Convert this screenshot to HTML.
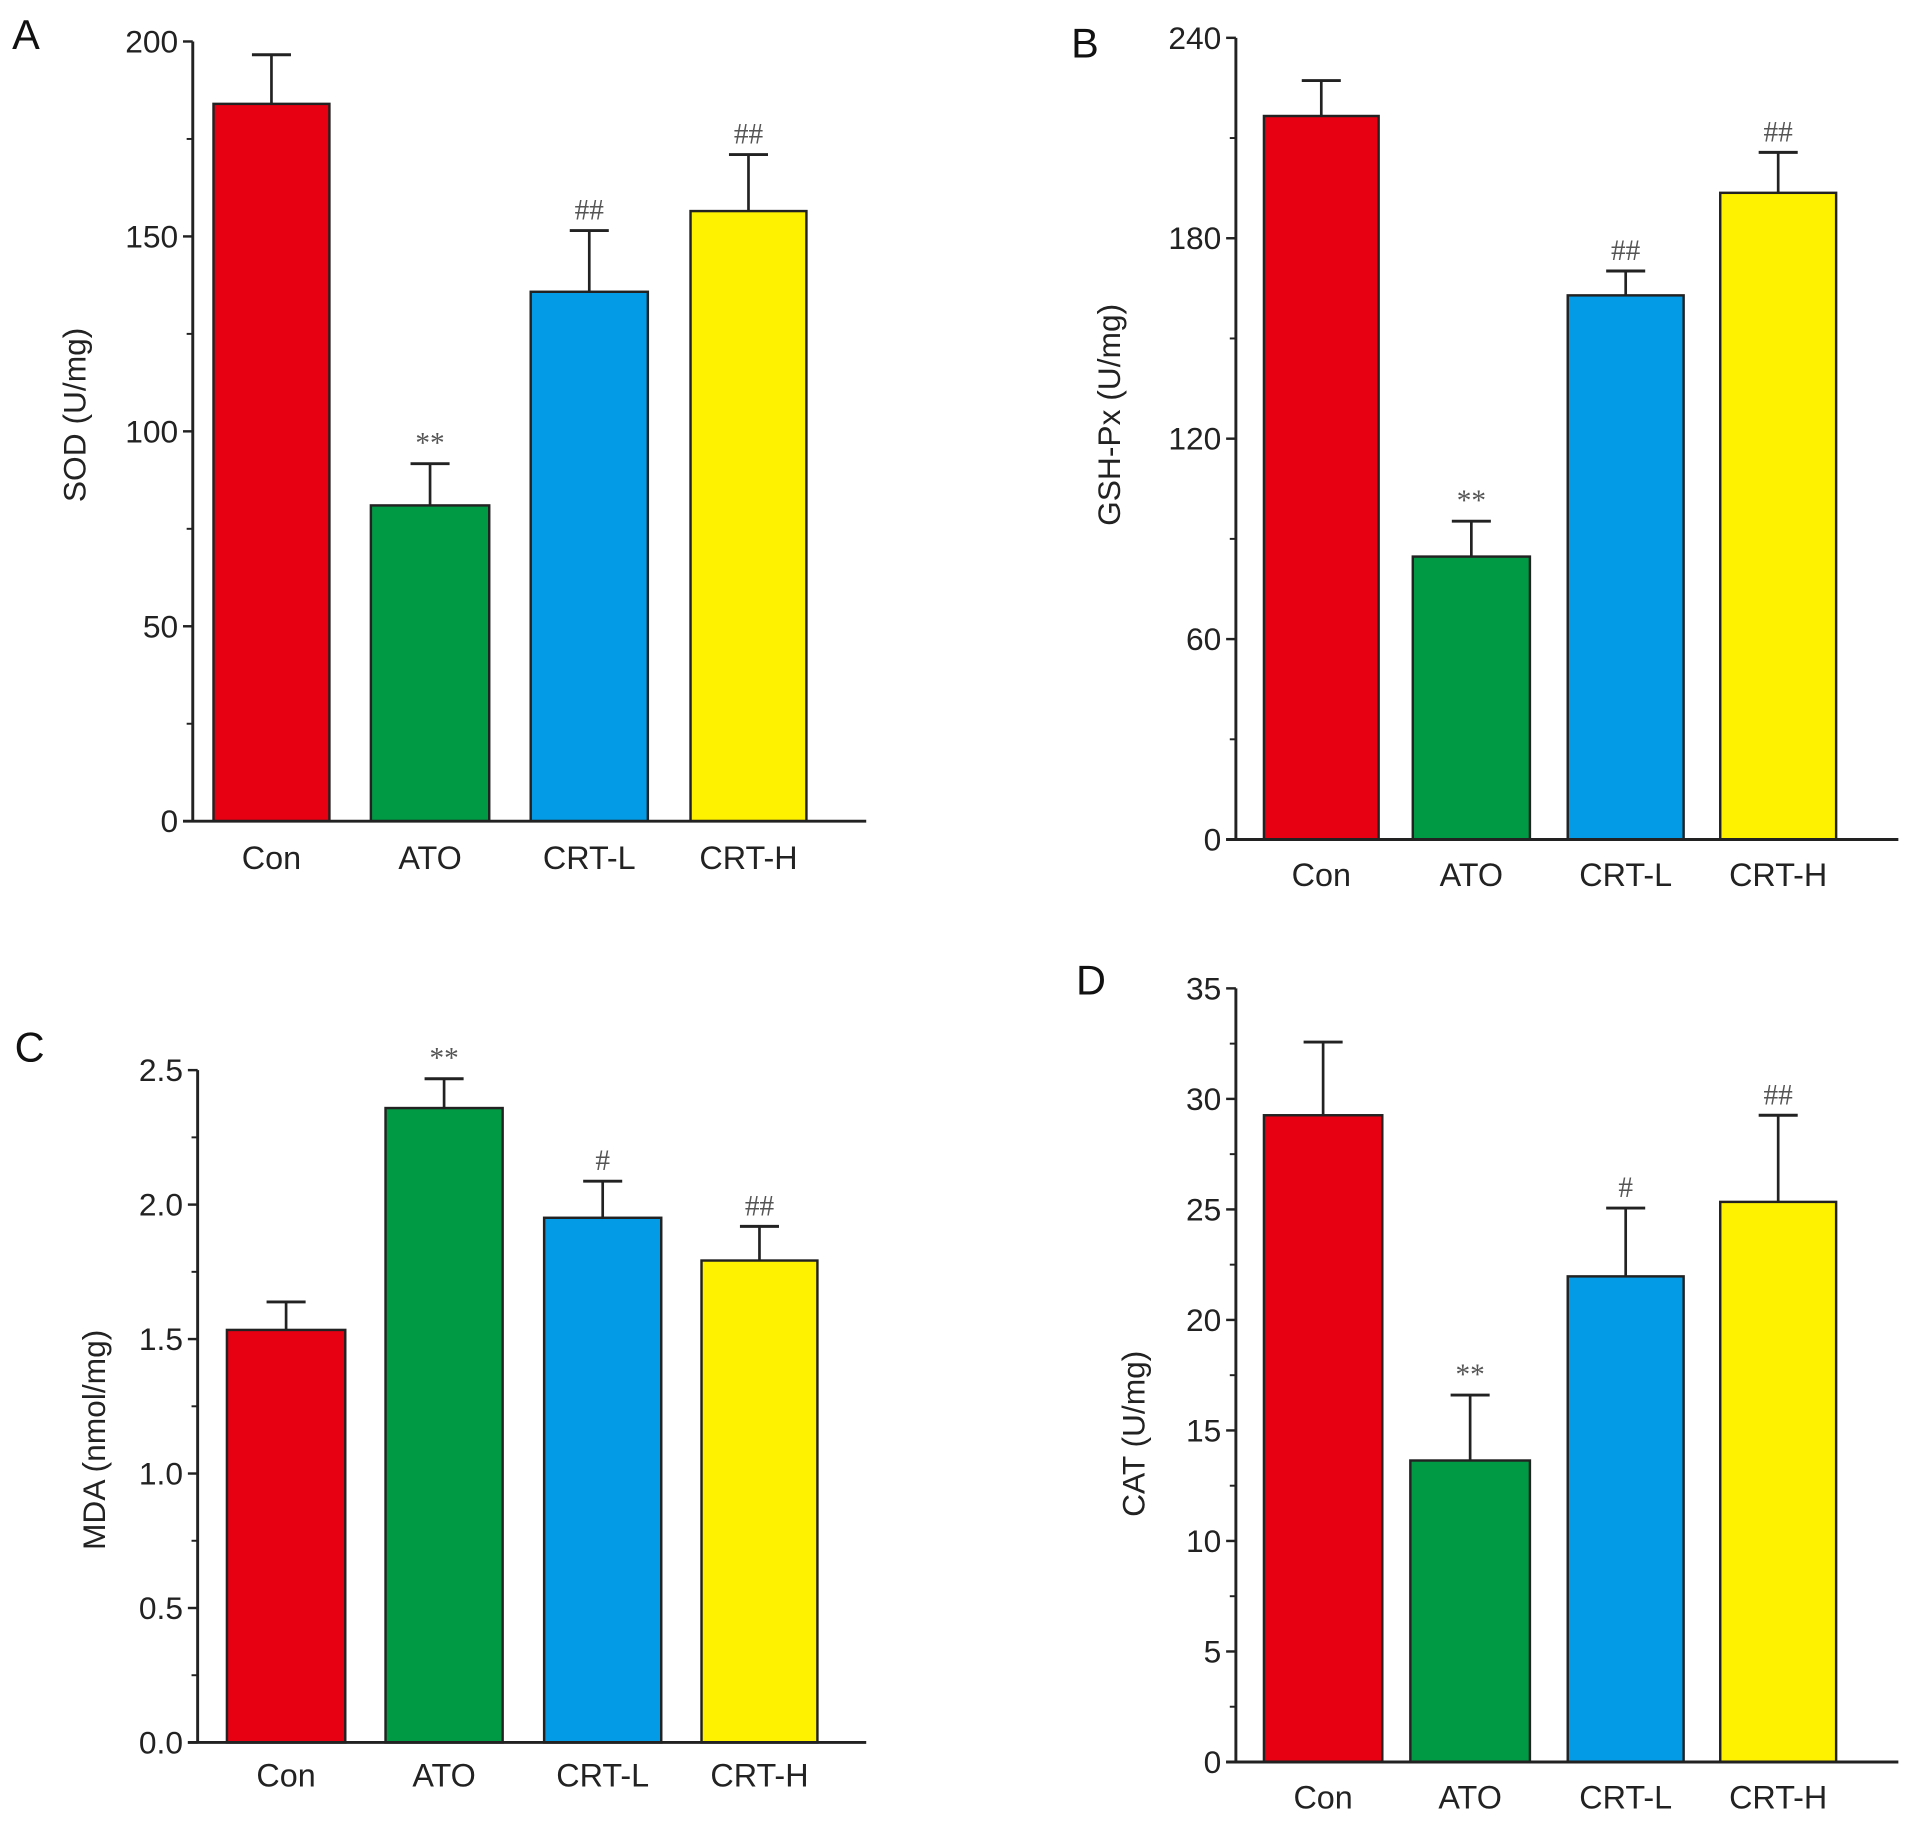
<!DOCTYPE html>
<html><head><meta charset="utf-8"><style>
html,body{margin:0;padding:0;background:#fff}
svg{display:block}
</style></head><body>
<svg id="fig" width="1913" height="1823" viewBox="0 0 1568 1494" preserveAspectRatio="none" xmlns="http://www.w3.org/2000/svg" font-family="Liberation Sans, sans-serif"></svg>
<script>
const categories = ["Con","ATO","CRT-L","CRT-H"];
const colors = ["#e60012","#009a44","#039be5","#fff200"];
const sodValues = [184, 81, 135.8, 156.5];
const sodErrors = [12.6, 10.7, 15.7, 14.5];
const sodMarks = ["", "**", "##", "##"];
const sodTicks = [0,50,100,150,200];
const gshValues = [216.6, 84.7, 162.9, 193.6];
const gshErrors = [10.6, 10.6, 7.3, 12.1];
const gshMarks = ["", "**", "##", "##"];
const gshTicks = [0,60,120,180,240];
const mdaValues = [1.534, 2.359, 1.951, 1.792];
const mdaErrors = [0.104, 0.109, 0.136, 0.127];
const mdaMarks = ["", "**", "#", "##"];
const mdaTicks = [0,0.5,1.0,1.5,2.0,2.5];
const mdaTickLabels = ["0.0","0.5","1.0","1.5","2.0","2.5"];
const catValues = [29.26, 13.64, 21.97, 25.34];
const catErrors = [3.31, 2.96, 3.09, 3.92];
const catMarks = ["", "**", "#", "##"];
const catTicks = [0,5,10,15,20,25,30,35];

const NS="http://www.w3.org/2000/svg";
const svg=document.getElementById('fig');
function mk(tag,attrs,parent,text){const e=document.createElementNS(NS,tag);for(const k in attrs)e.setAttribute(k,attrs[k]);if(text!==undefined)e.textContent=text;(parent||svg).appendChild(e);return e;}

function panel(o){
  const g=mk('g',{});
  
  
  const max=o.ticks[o.ticks.length-1];
  const y=v=>o.y0-(v/max)*(o.y0-o.yTop);
  const lt=mk('text',{x:o.lx,y:o.ly,'font-size':34,fill:'#111'},g,o.letter);
  
  
  categories.forEach((c,i)=>{
    const x1=o.barX[i][0],x2=o.barX[i][1],cx=(x1+x2)/2;
    const top=y(o.values[i]),et=y(o.values[i]+o.errors[i]);
    const el=mk('line',{x1:cx,x2:cx,y1:top,y2:et,stroke:'#222','stroke-width':2.2},g);
    
    
    const cap=mk('line',{x1:cx-16,x2:cx+16,y1:et,y2:et,stroke:'#222','stroke-width':2.4},g);
    
    
    const r=mk('rect',{x:x1,y:top,width:x2-x1,height:o.y0-top,fill:colors[i],stroke:'#222','stroke-width':2},g);
    
    
    if(o.marks[i]){
      const m=mk('text',{x:cx,y:et-9,'font-size':24,'text-anchor':'middle',fill:'#555','font-family':'Liberation Serif, serif'},g,o.marks[i]);
      
      
    }
    const t=mk('text',{x:cx,y:o.labY,'font-size':26.5,'text-anchor':'middle',fill:'#222'},g,c);
    
    
  });
  const ya=mk('line',{x1:o.ax,x2:o.ax,y1:o.yTop,y2:o.y0,stroke:'#222','stroke-width':2.4},g);
  
  
  const xa=mk('line',{x1:o.ax-8,x2:o.xEnd,y1:o.y0,y2:o.y0,stroke:'#222','stroke-width':2.4},g);
  
  
  o.ticks.forEach((v,i)=>{
    const ty=y(v);
    mk('line',{x1:o.ax-8,x2:o.ax,y1:ty,y2:ty,stroke:'#222','stroke-width':2},g);
    const t=mk('text',{x:o.ax-12,y:ty+9,'font-size':26,'text-anchor':'end',fill:'#222'},g,o.tickLabels?o.tickLabels[i]:String(v));
    
    
    if(i<o.ticks.length-1){
      const my=y((v+o.ticks[i+1])/2);
      mk('line',{x1:o.ax-5,x2:o.ax,y1:my,y2:my,stroke:'#222','stroke-width':1.6},g);
    }
  });
  const yt=mk('text',{x:0,y:0,'font-size':26,'text-anchor':'middle',fill:'#222',transform:`translate(${o.tx},${o.ty}) rotate(-90)`},g,o.title);
  
  
}

panel({letter:'A',lx:10,ly:40,ax:158,yTop:34,y0:673,xEnd:710,labY:712,values:sodValues,errors:sodErrors,marks:sodMarks,ticks:sodTicks,
  barX:[[175,270],[304,401],[435,531],[566,661]],title:'SOD (U/mg)',tx:70,ty:340});
panel({letter:'B',lx:878,ly:47,ax:1013,yTop:31,y0:688,xEnd:1556,labY:726,values:gshValues,errors:gshErrors,marks:gshMarks,ticks:gshTicks,
  barX:[[1036,1130],[1158,1254],[1285,1380],[1410,1505]],title:'GSH-Px (U/mg)',tx:918,ty:340});
panel({letter:'C',lx:12,ly:870,ax:162,yTop:877,y0:1428,xEnd:710,labY:1464,values:mdaValues,errors:mdaErrors,marks:mdaMarks,ticks:mdaTicks,tickLabels:mdaTickLabels,
  barX:[[186,283],[316,412],[446,542],[575,670]],title:'MDA (nmol/mg)',tx:86,ty:1180});
panel({letter:'D',lx:882,ly:815,ax:1013,yTop:810,y0:1444,xEnd:1556,labY:1482,values:catValues,errors:catErrors,marks:catMarks,ticks:catTicks,
  barX:[[1036,1133],[1156,1254],[1285,1380],[1410,1505]],title:'CAT (U/mg)',tx:938,ty:1175});
</script>
</body></html>
